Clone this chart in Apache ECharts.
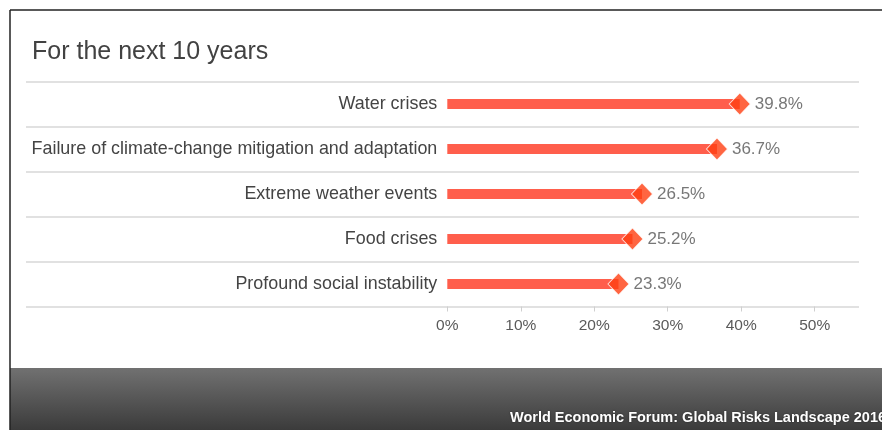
<!DOCTYPE html>
<html>
<head>
<meta charset="utf-8">
<script src="https://cdn.jsdelivr.net/npm/echarts@6/dist/echarts.min.js"></script>
<style>
  html, body { margin: 0; padding: 0; background: #ffffff; }
  #chart { width: 882px; height: 430px; }
</style>
</head>
<body>
<div id="chart"></div>
<script>
// Global risks by share of respondents, ten-year horizon
const categories = [
  'Water crises',
  'Failure of climate-change mitigation and adaptation',
  'Extreme weather events',
  'Food crises',
  'Profound social instability'
];
const shares = [39.8, 36.7, 26.5, 25.2, 23.3];
const titleText = 'For the next 10 years';
const sourceText = 'World Economic Forum: Global Risks Landscape 2016';

const FONT = '"Liberation Sans", Arial, Helvetica, sans-serif';

const chart = echarts.init(document.getElementById('chart'), null, { renderer: 'canvas' });

chart.setOption({
  backgroundColor: '#ffffff',
  animation: false,
  title: {
    text: titleText,
    left: 27,
    top: 35,
    textStyle: { fontFamily: FONT, fontSize: 25, fontWeight: 'normal', color: '#424242' }
  },
  grid: [
    // full-width band holding the row separators
    { left: 26, right: 23, top: 81.5, height: 225 },
    // plotting area for the values
    { left: 447.3, right: 67.3, top: 81.5, height: 225 }
  ],
  xAxis: [
    { gridIndex: 0, type: 'value', min: 0, max: 1, show: false },
    {
      gridIndex: 1,
      type: 'value',
      min: 0,
      max: 50,
      interval: 10,
      axisLine: { show: false },
      axisTick: { show: true, length: 5, lineStyle: { color: '#cfcfcf', width: 1 } },
      splitLine: { show: false },
      axisLabel: {
        formatter: '{value}%',
        margin: 11,
        fontFamily: FONT,
        fontSize: 15.5,
        color: '#5a5a5a'
      }
    }
  ],
  yAxis: [
    {
      gridIndex: 0,
      type: 'category',
      inverse: true,
      data: categories,
      axisLine: { show: false },
      axisTick: { show: false },
      axisLabel: { show: false },
      splitLine: { show: true, lineStyle: { color: '#e1e1e1', width: 2 } }
    },
    {
      gridIndex: 1,
      type: 'category',
      inverse: true,
      data: categories,
      axisLine: { show: false },
      axisTick: { show: false },
      splitLine: { show: false },
      axisLabel: {
        margin: 10,
        fontFamily: FONT,
        fontSize: 17.9,
        color: '#444444'
      }
    }
  ],
  series: [
    {
      type: 'bar',
      xAxisIndex: 1,
      yAxisIndex: 1,
      data: shares,
      barWidth: 10,
      itemStyle: { color: '#ff5e4c' },
      z: 2
    },
    {
      type: 'scatter',
      xAxisIndex: 1,
      yAxisIndex: 1,
      data: shares.map((v, i) => [v, i]),
      symbol: 'diamond',
      symbolSize: [21, 22],
      itemStyle: { color: '#ff3e12', borderColor: '#ffffff', borderWidth: 1 },
      label: {
        show: true,
        position: 'right',
        distance: 4,
        formatter: p => p.value[0].toFixed(1) + '%',
        fontFamily: FONT,
        fontSize: 17,
        color: '#555555'
      },
      z: 3
    }
  ],
  graphic: [
    {
      type: 'rect',
      shape: { x: 10, y: 368, width: 872, height: 62 },
      style: {
        fill: new echarts.graphic.LinearGradient(0, 0, 0, 1, [
          { offset: 0, color: '#717171' },
          { offset: 1, color: '#3b3b3b' }
        ])
      },
      silent: true
    },
    {
      type: 'text',
      x: 510,
      y: 418,
      style: {
        text: sourceText,
        fill: '#ffffff',
        font: 'bold 14.5px ' + FONT,
        verticalAlign: 'middle',
        textShadowColor: 'rgba(0,0,0,0.5)',
        textShadowBlur: 2
      },
      silent: true
    },
    {
      type: 'line',
      shape: { x1: 10, y1: 10, x2: 882, y2: 10 },
      style: { stroke: '#222222', lineWidth: 1.5 },
      silent: true
    },
    {
      type: 'line',
      shape: { x1: 10, y1: 10, x2: 10, y2: 430 },
      style: { stroke: '#222222', lineWidth: 1.5 },
      silent: true
    }
  ]
});
</script>
</body>
</html>
